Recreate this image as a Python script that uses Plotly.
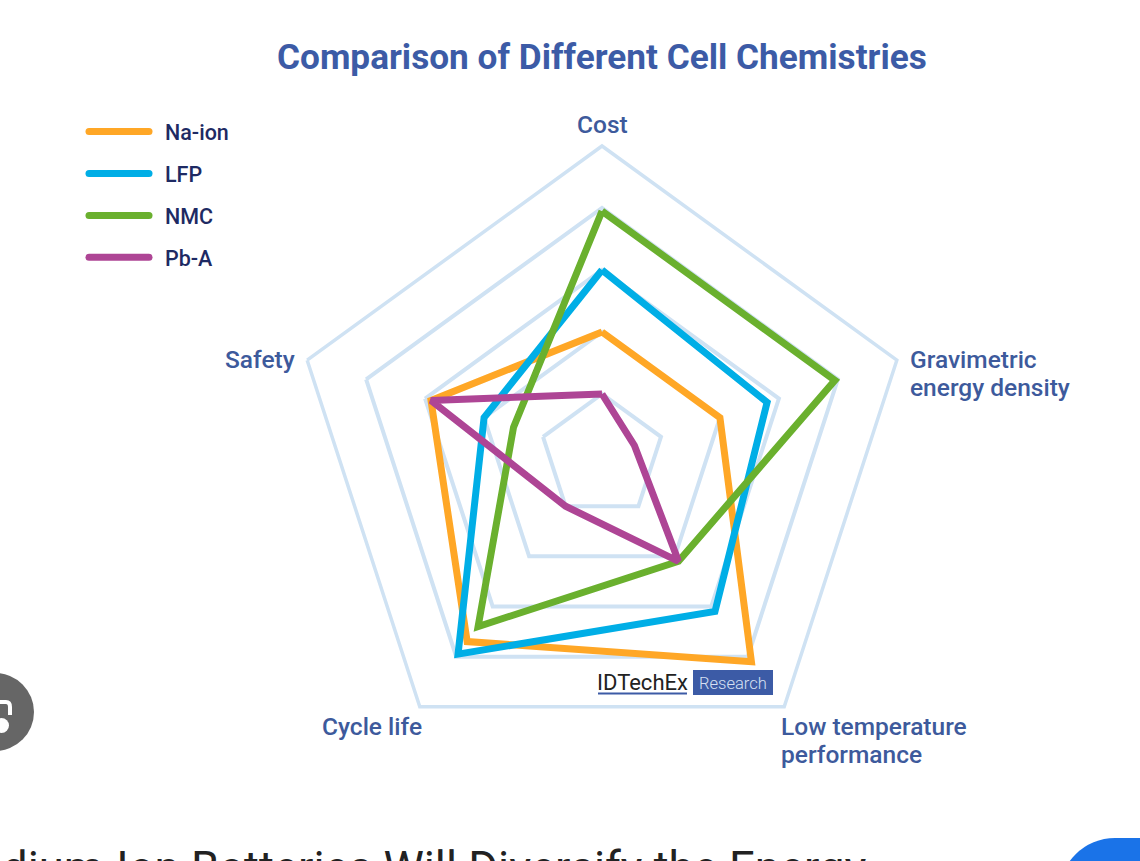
import plotly.graph_objects as go

categories = ["Cost", "Gravimetric energy density", "Low temperature performance", "Cycle life", "Safety"]
axis_labels = ["Cost", "Gravimetric<br>energy density", "Low temperature<br>performance", "Cycle life", "Safety"]
series_names = ["Na-ion", "LFP", "NMC", "Pb-A"]
na_ion = [2.0, 2.0, 4.1, 3.7, 2.9]
lfp = [3.0, 2.8, 3.1, 3.95, 2.0]
nmc = [3.95, 3.95, 2.1, 3.4, 1.5]
pb_a = [1.0, 0.55, 2.1, 1.0, 2.9]
series_values = [na_ion, lfp, nmc, pb_a]
series_colors = ["#FFA726", "#00AEE6", "#6AB02E", "#AE4595"]
title_text = "Comparison of Different Cell Chemistries"
footer_text = "dium-Ion Batteries Will Diversify the Energy"

W, H = 1140, 861
GRID = "#CFE2F3"
LABEL = "#3D5A9C"
LOGO = "#3C5BA6"

def px(x):
    return x / W

def py(y):
    return 1 - y / H

fig = go.Figure()
for name, vals, col in zip(series_names, series_values, series_colors):
    fig.add_trace(go.Scatterpolar(
        r=vals + vals[:1],
        theta=categories + categories[:1],
        mode="lines",
        name=name,
        legendgroup=name,
        line=dict(color=col, width=7),
    ))

label_pos = [
    (602, [124], "center"),
    (908, [359, 387], "left"),
    (779, [726, 754], "left"),
    (424, [726], "right"),
    (297, [359], "right"),
]
anns = []
for text, (x, ys, anchor) in zip(axis_labels, label_pos):
    for line, y in zip(text.split("<br>"), ys):
        anns.append(dict(x=px(x), y=py(y), xref="paper", yref="paper", text=line, showarrow=False,
                         xanchor=anchor, yanchor="middle", align=anchor,
                         font=dict(family="Roboto", size=24.5, color=LABEL, weight=500)))
anns.append(dict(x=px(602), y=py(57), xref="paper", yref="paper", text=title_text, showarrow=False,
                 xanchor="center", yanchor="middle",
                 font=dict(family="Roboto", size=35.2, color=LOGO, weight=700)))
anns.append(dict(x=px(597), y=py(682), xref="paper", yref="paper", text="IDTechEx", showarrow=False,
                 xanchor="left", yanchor="middle", xshift=-2,
                 font=dict(family="Roboto", size=22, color="#222222", weight=400)))
anns.append(dict(x=px(733), y=py(683), xref="paper", yref="paper", text="Research", showarrow=False,
                 xanchor="center", yanchor="middle",
                 font=dict(family="Roboto", size=16.5, color="#D6E0F2", weight=300)))
anns.append(dict(x=px(0), y=py(839.5), xref="paper", yref="paper", text=footer_text, showarrow=False,
                 xanchor="left", yanchor="top",
                 font=dict(family="Roboto", size=45.5, color="#222222")))

shapes = [
    dict(type="rect", xref="paper", yref="paper", x0=px(693), x1=px(773), y0=py(695), y1=py(670),
         fillcolor=LOGO, line_width=0),
    dict(type="line", xref="paper", yref="paper", x0=px(598), x1=px(687), y0=py(693.5), y1=py(693.5),
         line=dict(color=LOGO, width=2)),
    dict(type="circle", xref="paper", yref="paper", x0=px(-44), x1=px(34), y0=py(751), y1=py(673),
         fillcolor="#666666", line_width=0),
    dict(type="path", xref="paper", yref="paper",
         path=f"M {px(-6)} {py(702)} L {px(6)} {py(702)} Q {px(10)} {py(702)} {px(10)} {py(707)} L {px(10)} {py(715)}",
         line=dict(color="#FFFFFF", width=4)),
    dict(type="circle", xref="paper", yref="paper", x0=px(-6), x1=px(9), y0=py(733), y1=py(718),
         fillcolor="#FFFFFF", line_width=0),
    dict(type="circle", xref="paper", yref="paper", x0=px(1059), x1=px(1171), y0=py(950), y1=py(838),
         fillcolor="#1A73E8", line_width=0),
    dict(type="rect", xref="paper", yref="paper", x0=px(1115), x1=px(1140), y0=py(861), y1=py(838),
         fillcolor="#1A73E8", line_width=0),
]

fig.update_layout(
    width=W, height=H, margin=dict(l=0, r=0, t=0, b=0),
    paper_bgcolor="#FFFFFF", plot_bgcolor="#FFFFFF",
    polar=dict(
        domain=dict(x=[px(292), px(912)], y=[py(766), py(146)]),
        bgcolor="rgba(0,0,0,0)",
        gridshape="linear",
        radialaxis=dict(range=[0, 5], dtick=1, showline=False, showticklabels=False, ticks="",
                        gridcolor=GRID, gridwidth=3.5),
        angularaxis=dict(type="category", direction="clockwise", rotation=90, showgrid=False,
                         showticklabels=False, ticks="", showline=True, linecolor=GRID, linewidth=3.5,
                         categoryorder="array", categoryarray=categories),
    ),
    showlegend=True,
    legend=dict(x=px(84), y=py(111), xanchor="left", yanchor="top", bgcolor="rgba(0,0,0,0)",
                itemwidth=60, tracegroupgap=11, traceorder="grouped",
                font=dict(family="Roboto", size=21.5, color="#1E2A63", weight=500)),
    annotations=anns,
    shapes=shapes,
)

post = """
document.body.style.margin='0';
document.documentElement.style.overflow='hidden';
document.querySelectorAll('.legend .scrollbox').forEach(function(s){s.removeAttribute('clip-path');s.style.clipPath='none';});
document.querySelectorAll('.legendlines path').forEach(function(p){p.style.strokeLinecap='round';});
document.querySelectorAll('.legendtext').forEach(function(t){t.setAttribute('x', parseFloat(t.getAttribute('x'))+11);});
document.querySelectorAll('.scatterlayer .js-line').forEach(function(p){p.style.strokeLinejoin='miter';});
"""
fig.write_html("out.html", post_script=post, config=dict(displayModeBar=False))
